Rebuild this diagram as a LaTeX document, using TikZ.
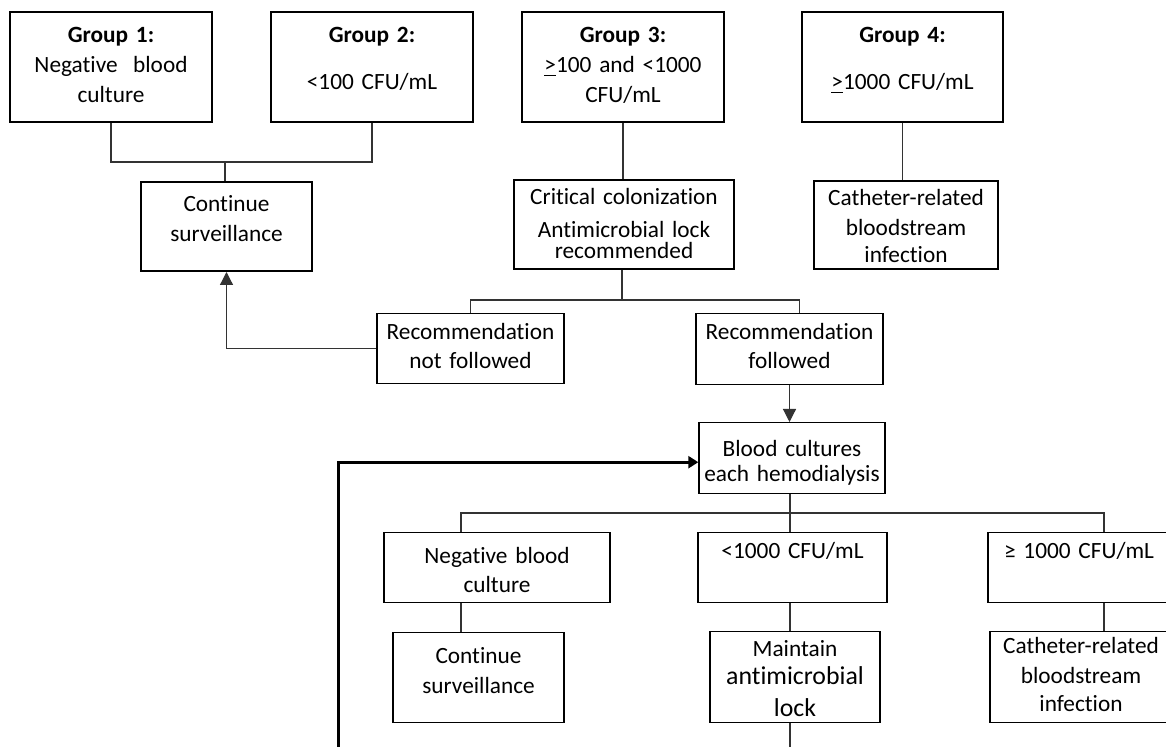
\documentclass[tikz,border=0pt]{standalone}
\usepackage{fontspec}
\setmainfont{Carlito}[Ligatures=NoCommon]
\usetikzlibrary{arrows.meta}

\begin{document}
\begin{tikzpicture}
[x=0.5pt, y=-0.5pt,
 every node/.style={inner sep=0pt, align=center, font=\fontsize{11.65}{15}\selectfont},
 heavybox/.style={draw=black, line width=1pt, anchor=north},
 lightbox/.style={draw=black, line width=0.7pt, anchor=north},
 link/.style={line width=0.6pt, draw=black!80},
 arr/.style={link, -{Triangle[width=6.5pt, length=6.5pt]}},
 looparr/.style={line width=1.5pt, draw=black, -{Triangle[width=6pt, length=5pt]}}]
\useasboundingbox (0,0) rectangle (1166,747);
\clip (0,0) rectangle (1166,747);
% groups
\node (g1) [heavybox, text width=101pt, text height=15.5pt, text depth=39.5pt] at (111,11) {\textbf{Group 1:}\\Negative~ blood\\culture};
\node (g2) [heavybox, text width=101pt, text height=15.5pt, text depth=39.5pt] at (372,11) {\textbf{Group 2:}\\[8.5pt]<100 CFU/mL};
\node (g3) [heavybox, text width=101pt, text height=15.5pt, text depth=39.5pt] at (623,11) {\textbf{Group 3:}\\\underline{>}100 and <1000\\CFU/mL};
\node (g4) [heavybox, text width=100.5pt, text height=15.5pt, text depth=39.5pt] at (902.5,11) {\textbf{Group 4:}\\[8.5pt]\underline{>}1000 CFU/mL};
% first outcomes
\node (cont1) [heavybox, text width=85.5pt, text height=15pt, text depth=29.5pt] at (226.5,181) {Continue\\surveillance};
\node (crit) [heavybox, text width=110pt, text height=12.5pt, text depth=32pt] at (624,179) {Critical colonization\\[1.5pt]Antimicrobial lock\\[-4.5pt]recommended};
\node (crb1) [heavybox, text width=92pt, text height=12.5pt, text depth=31.5pt] at (906,180) {Catheter-related\\bloodstream\\[-1.5pt]infection};
% recommendation
\node (recnot) [lightbox, text width=93.5pt, text height=13pt, text depth=22pt] at (470.5,313) {Recommendation\\[-0.5pt]not followed};
\node (recyes) [lightbox, text width=93.5pt, text height=13pt, text depth=22.5pt] at (789.5,313) {Recommendation\\[-0.5pt]followed};
\node (blood) [lightbox, text width=93pt, text height=17pt, text depth=18.5pt] at (792,422) {Blood cultures\\[-2.5pt]each hemodialysis};
% follow-up results
\node (neg) [lightbox, text width=113pt, text height=15.5pt, text depth=19.5pt] at (497,532) {Negative blood\\[-0.5pt]culture};
\node (lt1000) [lightbox, text width=94.5pt, text height=13pt, text depth=22pt] at (792.5,532) {<1000 CFU/mL};
\node (ge1000) [lightbox, text width=91pt, text height=13pt, text depth=22pt] at (1079,532) {≥ 1000 CFU/mL};
\node (cont2) [lightbox, text width=85.5pt, text height=15.5pt, text depth=29.5pt] at (478.5,632) {Continue\\surveillance};
\node (maintain) [lightbox, text width=85pt, text height=12.5pt, text depth=33pt] at (795,631) {Maintain\\[-1pt]{\fontsize{12.9}{15}\selectfont antimicrobial\\[1pt]lock}};
\node (crb2) [lightbox, text width=91pt, text height=11pt, text depth=34.5pt] at (1081,631) {Catheter-related\\bloodstream\\[-1pt]infection};
% junctions
\coordinate (top12) at (225,162);
\coordinate (split1) at (622,300);
\coordinate (split2) at (790,513);
\coordinate (negbus) at (461,513);
\coordinate (gebus) at (1104,513);
\coordinate (mainend) at (790,760);
\coordinate (loopend) at (338,760);
% connectors
\draw [link] (g1.south) |- (top12) -| (g2.south);
\draw [link] (top12) -- (top12 |- cont1.north);
\draw [link] (g3.south) -- (g3.south |- crit.north);
\draw [link] (g4.south) -- (g4.south |- crb1.north);
\draw [link] (split1 |- crit.south) -- (split1);
\draw [link] (recnot.north) |- (split1) -| ([xshift=5pt]recyes.north);
\draw [arr] (recnot.west) -| (cont1.south);
\draw [arr] (recyes.south) -- (recyes.south |- blood.north);
\draw [link] (split2 |- blood.south) -- (split2);
\draw [link] (negbus |- neg.north) -- (negbus) -- (gebus) -- (gebus |- ge1000.north);
\draw [link] (split2) -- (split2 |- lt1000.north);
\draw [link] (negbus |- neg.south) -- (negbus |- cont2.north);
\draw [link] (split2 |- lt1000.south) -- (split2 |- maintain.north);
\draw [link] (gebus |- ge1000.south) -- (gebus |- crb2.north);
\draw [link] (split2 |- maintain.south) -- (mainend);
\draw [looparr] (loopend) |- ([yshift=-2pt]blood.west);
\end{tikzpicture}
\end{document}
